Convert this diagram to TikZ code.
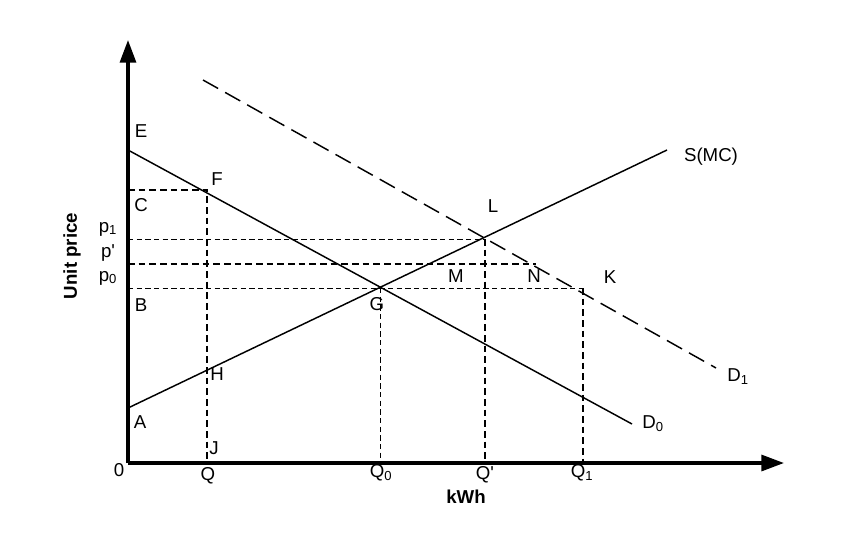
\documentclass[tikz,border=0pt]{standalone}
\usepackage{fontspec}
\setmainfont{Liberation Sans}
\usetikzlibrary{arrows.meta}

\tikzset{
  axis/.style={line width=2.4pt,-{Triangle[length=17pt,width=12pt]}},
  curve/.style={line width=1.1pt},
  boldguide/.style={line width=1.1pt,dash pattern=on 5pt off 3pt},
  thinguide/.style={line width=0.7pt,dash pattern=on 4pt off 2.5pt},
  lbl/.style={inner sep=0pt,font=\fontsize{14}{16}\selectfont}
}
\newcommand{\sub}[1]{\textsubscript{#1}}

\begin{document}
\begin{tikzpicture}[x=0.75pt,y=-0.75pt]
\useasboundingbox (0,0) rectangle (861,544);
% axes
\coordinate (O) at (128,463);
\coordinate (ytop) at (128,40);
\coordinate (xend) at (784,463);
\draw [axis] (O) -- (ytop);
\draw [axis] (O) -- (xend);
% curves
\coordinate (E) at (128,150);
\coordinate (d0end) at (632,424);
\coordinate (A) at (128,408);
\coordinate (send) at (667,150);
\coordinate (d1start) at (203,80);
\coordinate (d1end) at (716,368);
\draw [curve] (E) -- (d0end);
\draw [curve] (A) -- (send);
\draw [curve,dash pattern=on 13pt off 6pt] (d1start) -- (d1end);
% points
\coordinate (F) at (207,190);
\coordinate (C) at (128,190);
\coordinate (J) at (207,463);
\coordinate (G) at (380,288);
\coordinate (B) at (128,288);
\coordinate (K) at (583,288);
\coordinate (L) at (485,239);
\coordinate (p1) at (128,239);
\coordinate (pp) at (128,264);
\coordinate (N) at (536,264);
\coordinate (Q0) at (380,463);
\coordinate (Qp) at (485,463);
\coordinate (Q1) at (583,463);
% guides
\draw [boldguide] (C) -- (F) -- (J);
\draw [thinguide] (p1) -- (L);
\draw [boldguide] (pp) -- (N);
\draw [thinguide] (B) -- (K);
\draw [thinguide] (G) -- (Q0);
\draw [boldguide] (L) -- (Qp);
\draw [boldguide] (K) -- (Q1);
% labels
\node [lbl] (lE) at (141,131) {E};
\node [lbl] (lC) at (141,205) {C};
\node [lbl] (lB) at (141,305) {B};
\node [lbl] (lA) at (140,422) {A};
\node [lbl] (lF) at (217,179) {F};
\node [lbl] (lH) at (217,374) {H};
\node [lbl] (lJ) at (214,448) {J};
\node [lbl] (lG) at (377,304) {G};
\node [lbl] (lL) at (493,206) {L};
\node [lbl] (lM) at (456,276) {M};
\node [lbl] (lN) at (534,276) {N};
\node [lbl] (lK) at (610,277) {K};
\node [lbl] (lS) at (711,157) {S(MC)};
\node [lbl] (lD1) at (738,377) {D\sub{1}};
\node [lbl] (lD0) at (653,424) {D\sub{0}};
\node [lbl] (lp1) at (108,229) {p\sub{1}};
\node [lbl] (lpp) at (108,253) {p\textquotesingle};
\node [lbl] (lp0) at (108,278) {p\sub{0}};
\node [lbl] (l0) at (119,470) {0};
\node [lbl] (lQ) at (208,476) {Q};
\node [lbl] (lQ0) at (381,473) {Q\sub{0}};
\node [lbl] (lQp) at (485,475) {Q\textquotesingle};
\node [lbl] (lQ1) at (582,473) {Q\sub{1}};
\node [lbl,font=\fontsize{14}{16}\selectfont\bfseries] (lkwh) at (466,497) {kWh};
\node [lbl,font=\fontsize{14}{16}\selectfont\bfseries,rotate=90] (lup) at (72,256) {Unit price};
\end{tikzpicture}
\end{document}
